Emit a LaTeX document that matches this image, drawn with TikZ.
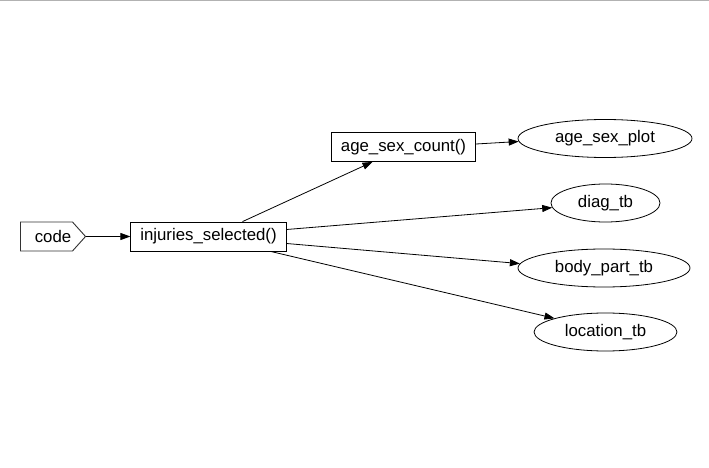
\documentclass[tikz,border=0pt]{standalone}
\usepackage{fontspec}
\setmainfont{Liberation Sans}
\usetikzlibrary{positioning,arrows.meta,shapes.geometric,shapes.symbols}

\tikzset{
  fnbox/.style={draw, rectangle, inner xsep=9.5pt, minimum height=29pt, line width=0.8pt},
  tblnode/.style={draw, ellipse, minimum height=38pt, inner sep=0pt, line width=0.8pt},
  srcnode/.style={draw=black!80, signal, signal to=east, signal pointer angle=96,
    minimum width=65pt, minimum height=29pt, inner sep=0pt, line width=0.9pt},
  flow/.style={-{Triangle[length=10pt,width=7pt]}, line width=0.8pt},
}

\begin{document}
\begin{tikzpicture}[x=1pt, y=-1pt, every node/.style={font=\fontsize{16.8}{18}\selectfont}]
  \useasboundingbox (0,0) rectangle (709,468);
  \draw[black!30, line width=1pt] (0,0.5) -- (709,0.5);

  \node[srcnode] (code) at (46.5,236.5) {\hspace*{13pt}code};
  \node[fnbox] (inj) at (208.5,236.5) {injuries\_selected()};
  \node[fnbox] (asc) at (403.5,147) {age\_sex\_count()};

  % output tables
  \foreach \name/\txt/\x/\y/\w in {
    asp/{age\_sex\_plot}/605/138.5/174,
    diag/{diag\_tb}/605.5/203/109,
    bpt/{body\_part\_tb}/604/268/172,
    loc/{location\_tb}/605.5/332/143
  } {
    \node[tblnode, minimum width=\w pt] (\name) at (\x,\y) {\txt};
  }

  \draw[flow] (code) -- (inj);
  \draw[flow] ([xshift=34pt]inj.north) -- ([xshift=-31pt]asc.south);
  \draw[flow] ([yshift=7pt]inj.east) -- (diag.185);
  \draw[flow] ([yshift=-7pt]inj.east) -- (bpt.177);
  \draw[flow] ([xshift=62pt]inj.south) -- (loc.165.5);
  \draw[flow] ([yshift=3pt]asc.east) -- (asp.182);
\end{tikzpicture}
\end{document}
